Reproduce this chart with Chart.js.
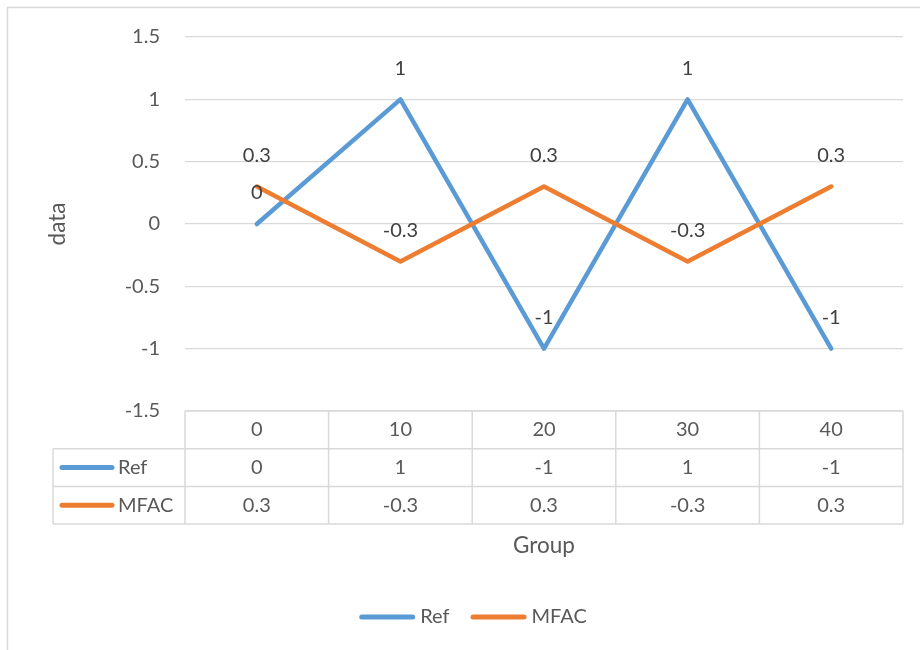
<!DOCTYPE html>
<html>
<head>
<meta charset="utf-8">
<script src="https://cdn.jsdelivr.net/npm/chart.js@4/dist/chart.umd.min.js"></script>
<style>
  html, body { margin: 0; padding: 0; background: #fff; }
  canvas { display: block; }
</style>
</head>
<body>
<canvas id="chart" width="920" height="650"></canvas>
<script>
// Series data
const categories = ['0', '10', '20', '30', '40'];
const refValues = [0, 1, -1, 1, -1];
const mfacValues = [0.3, -0.3, 0.3, -0.3, 0.3];
const yTickValues = [-1.5, -1, -0.5, 0, 0.5, 1, 1.5];
const seriesNames = ['Ref', 'MFAC'];
const seriesColors = ['#5B9BD5', '#ED7D31'];

// Styling
const FONT_FAMILY = 'Lato';
const FONT_SIZE = 20;
const TITLE_SIZE = 22.5;
const TEXT_COLOR = '#595959';
const LABEL_COLOR = '#404040';
const RULE_COLOR = '#D9D9D9';
const ROW_HEIGHT = 37.7;
const KEY_LEFT = 53;

function font(size) { return size + 'px ' + FONT_FAMILY; }

// Light outer frame around the chart
const framePlugin = {
  id: 'frame',
  beforeDraw(chart) {
    const ctx = chart.ctx;
    ctx.save();
    ctx.fillStyle = '#fff';
    ctx.fillRect(0, 0, chart.width, chart.height);
    ctx.strokeStyle = RULE_COLOR;
    ctx.lineWidth = 1.5;
    ctx.beginPath();
    ctx.moveTo(7.5, chart.height);
    ctx.lineTo(7.5, 7.5);
    ctx.lineTo(chart.width, 7.5);
    ctx.stroke();
    ctx.restore();
  }
};

// Value labels above each line vertex
const valueLabelPlugin = {
  id: 'valueLabels',
  afterDatasetsDraw(chart) {
    const ctx = chart.ctx;
    ctx.save();
    ctx.font = font(FONT_SIZE);
    ctx.fillStyle = LABEL_COLOR;
    ctx.textAlign = 'center';
    ctx.textBaseline = 'middle';
    chart.data.datasets.forEach((ds, di) => {
      const meta = chart.getDatasetMeta(di);
      meta.data.forEach((pt, i) => {
        ctx.fillText(String(ds.data[i]), pt.x, pt.y - 31);
      });
    });
    ctx.restore();
  }
};

// Data table under the plot area, aligned with the category scale
const dataTablePlugin = {
  id: 'dataTable',
  afterDraw(chart) {
    const ctx = chart.ctx;
    const xs = chart.scales.x;
    const area = chart.chartArea;
    const n = categories.length;
    const colW = (area.right - area.left) / n;
    const top = area.bottom;
    const rows = chart.data.datasets.length;
    const bottom = top + ROW_HEIGHT * (rows + 1);

    ctx.save();
    ctx.strokeStyle = RULE_COLOR;
    ctx.lineWidth = 1.5;
    ctx.beginPath();
    ctx.moveTo(area.left, top);
    ctx.lineTo(area.right, top);
    for (let r = 1; r <= rows + 1; r++) {
      const y = top + ROW_HEIGHT * r;
      ctx.moveTo(KEY_LEFT, y);
      ctx.lineTo(area.right, y);
    }
    ctx.moveTo(KEY_LEFT, top + ROW_HEIGHT);
    ctx.lineTo(KEY_LEFT, bottom);
    for (let i = 0; i < n; i++) {
      const x = xs.getPixelForValue(i) - colW / 2;
      ctx.moveTo(x, top);
      ctx.lineTo(x, bottom);
    }
    ctx.moveTo(area.right, top);
    ctx.lineTo(area.right, bottom);
    ctx.stroke();

    ctx.font = font(FONT_SIZE);
    ctx.fillStyle = TEXT_COLOR;
    ctx.textAlign = 'center';
    ctx.textBaseline = 'middle';
    categories.forEach((c, i) => {
      ctx.fillText(c, xs.getPixelForValue(i), top + ROW_HEIGHT / 2);
    });
    chart.data.datasets.forEach((ds, di) => {
      const cy = top + ROW_HEIGHT * (di + 1.5);
      ds.data.forEach((v, i) => {
        ctx.fillStyle = TEXT_COLOR;
        ctx.textAlign = 'center';
        ctx.fillText(String(v), xs.getPixelForValue(i), cy);
      });
      // series key inside the table
      ctx.strokeStyle = ds.borderColor;
      ctx.lineWidth = 5;
      ctx.lineCap = 'round';
      ctx.beginPath();
      ctx.moveTo(KEY_LEFT + 9, cy);
      ctx.lineTo(KEY_LEFT + 59, cy);
      ctx.stroke();
      ctx.fillStyle = TEXT_COLOR;
      ctx.textAlign = 'left';
      ctx.fillText(ds.label, KEY_LEFT + 65, cy);
    });
    ctx.restore();
  }
};

// Legend row at the bottom
const bottomLegendPlugin = {
  id: 'bottomLegend',
  afterDraw(chart) {
    const ctx = chart.ctx;
    const area = chart.chartArea;
    const cy = 617;
    const keyW = 56, gap = 5, itemGap = 21;
    ctx.save();
    ctx.font = font(FONT_SIZE);
    const items = chart.data.datasets.map(ds => ({
      ds, w: keyW + gap + ctx.measureText(ds.label).width
    }));
    const total = items.reduce((s, it) => s + it.w, 0) + itemGap * (items.length - 1);
    let x = (area.left + area.right) / 2 - total / 2 - 71;
    items.forEach(it => {
      ctx.strokeStyle = it.ds.borderColor;
      ctx.lineWidth = 5;
      ctx.lineCap = 'round';
      ctx.beginPath();
      ctx.moveTo(x + 2.5, cy);
      ctx.lineTo(x + keyW - 2.5, cy);
      ctx.stroke();
      ctx.fillStyle = TEXT_COLOR;
      ctx.textAlign = 'left';
      ctx.textBaseline = 'middle';
      ctx.fillText(it.ds.label, x + keyW + gap, cy);
      x += it.w + itemGap;
    });
    ctx.restore();
  }
};

const seriesData = [refValues, mfacValues];

new Chart(document.getElementById('chart'), {
  type: 'line',
  data: {
    labels: categories,
    datasets: seriesData.map((vals, i) => ({
      label: seriesNames[i],
      data: vals,
      borderColor: seriesColors[i],
      backgroundColor: seriesColors[i],
      borderWidth: 4.5,
      borderCapStyle: 'round',
      borderJoinStyle: 'round',
      pointRadius: 0,
      pointHoverRadius: 0,
      tension: 0,
      fill: false,
      order: seriesData.length - i
    }))
  },
  options: {
    responsive: false,
    animation: false,
    events: [],
    layout: { padding: { top: 37, right: 17, bottom: 0, left: 0 } },
    plugins: {
      legend: { display: false },
      tooltip: { enabled: false }
    },
    scales: {
      x: {
        type: 'category',
        offset: true,
        grid: { display: false, drawTicks: false },
        border: { display: false },
        ticks: { display: false },
        title: {
          display: true,
          text: 'Group',
          color: TEXT_COLOR,
          font: { family: FONT_FAMILY, size: TITLE_SIZE },
          padding: { top: 121.5, bottom: 90.5 }
        }
      },
      y: {
        min: yTickValues[0],
        max: yTickValues[yTickValues.length - 1],
        afterBuildTicks(scale) {
          scale.ticks = yTickValues.map(v => ({ value: v }));
        },
        afterFit(scale) { scale.width = 185; },
        grid: { color: RULE_COLOR, lineWidth: 1.2, drawTicks: false },
        border: { display: false },
        ticks: {
          color: TEXT_COLOR,
          font: { family: FONT_FAMILY, size: FONT_SIZE },
          padding: 25,
          callback: v => String(v)
        },
        title: {
          display: true,
          text: 'data',
          color: TEXT_COLOR,
          font: { family: FONT_FAMILY, size: TITLE_SIZE },
          padding: { top: 44, bottom: 0 }
        }
      }
    }
  },
  plugins: [framePlugin, valueLabelPlugin, dataTablePlugin, bottomLegendPlugin]
});
</script>
</body>
</html>
